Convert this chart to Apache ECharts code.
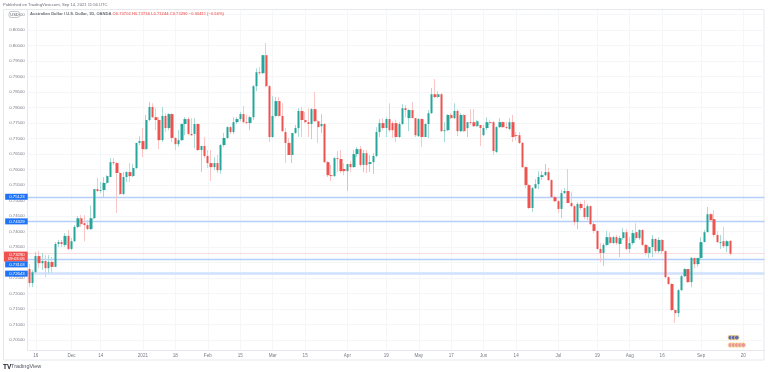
<!DOCTYPE html>
<html><head><meta charset="utf-8">
<style>html,body{margin:0;padding:0;background:#fff}#c{width:768px;height:372px}</style>
<script src="https://cdn.jsdelivr.net/npm/echarts@6/dist/echarts.min.js"></script>
</head><body><div id="c"></div>
<script>
const open=[.7279,.7234,.7269,.7321,.7298,.7305,.7282,.7302,.7286,.7360,.7366,.7357,.7386,.7344,.7369,.7415,.7443,.7427,.7421,.7408,.7443,.7537,.7531,.7534,.7557,.7576,.7624,.7621,.7589,.7521,.7576,.7592,.7579,.7605,.7686,.7692,.7666,.7760,.7802,.7769,.7760,.7695,.7773,.7734,.7779,.7702,.7682,.7695,.7747,.7763,.7715,.7715,.7747,.7663,.7676,.7644,.7621,.7608,.7621,.7598,.7679,.7702,.7737,.7721,.7753,.7763,.7779,.7753,.7750,.7769,.7869,.7914,.7911,.7969,.7869,.7705,.7773,.7821,.7773,.7721,.7686,.7647,.7718,.7734,.7789,.7760,.7753,.7747,.7795,.7756,.7740,.7747,.7624,.7582,.7579,.7637,.7634,.7602,.7595,.7618,.7608,.7650,.7666,.7615,.7653,.7618,.7624,.7644,.7721,.7750,.7734,.7763,.7750,.7750,.7705,.7747,.7798,.7766,.7792,.7766,.7708,.7763,.7705,.7747,.7782,.7843,.7834,.7843,.7724,.7727,.7776,.7766,.7789,.7724,.7776,.7734,.7753,.7753,.7740,.7744,.7711,.7734,.7753,.7753,.7657,.7737,.7753,.7737,.7731,.7753,.7711,.7711,.7686,.7608,.7550,.7476,.7540,.7553,.7576,.7582,.7592,.7566,.7511,.7498,.7473,.7524,.7531,.7492,.7482,.7431,.7489,.7476,.7447,.7482,.7424,.7402,.7344,.7331,.7357,.7382,.7363,.7382,.7360,.7379,.7398,.7344,.7363,.7398,.7379,.7405,.7357,.7331,.7350,.7376,.7337,.7373,.7337,.7253,.7231,.7147,.7137,.7211,.7256,.7279,.7237,.7315,.7295,.7315,.7366,.7398,.7456,.7440,.7389,.7363,.7369,.7353,.7370];
const close=[.7234,.7269,.7321,.7298,.7305,.7282,.7302,.7286,.7360,.7366,.7360,.7386,.7344,.7369,.7415,.7443,.7424,.7421,.7408,.7443,.7537,.7531,.7534,.7557,.7579,.7624,.7621,.7589,.7521,.7576,.7592,.7579,.7605,.7686,.7692,.7666,.7760,.7802,.7769,.7760,.7695,.7773,.7734,.7779,.7702,.7682,.7695,.7747,.7763,.7715,.7711,.7747,.7663,.7676,.7644,.7621,.7608,.7621,.7598,.7679,.7702,.7737,.7721,.7753,.7763,.7779,.7753,.7750,.7769,.7869,.7914,.7911,.7969,.7869,.7705,.7773,.7821,.7773,.7724,.7686,.7647,.7718,.7734,.7789,.7760,.7753,.7747,.7795,.7756,.7737,.7747,.7624,.7582,.7579,.7637,.7634,.7595,.7595,.7618,.7608,.7650,.7666,.7615,.7653,.7615,.7624,.7644,.7721,.7750,.7734,.7763,.7727,.7727,.7705,.7747,.7798,.7792,.7792,.7766,.7711,.7763,.7705,.7747,.7782,.7843,.7834,.7843,.7724,.7727,.7776,.7766,.7789,.7724,.7776,.7724,.7753,.7750,.7740,.7756,.7734,.7734,.7753,.7750,.7660,.7737,.7753,.7737,.7734,.7753,.7705,.7708,.7686,.7608,.7550,.7476,.7540,.7553,.7576,.7582,.7592,.7566,.7511,.7498,.7473,.7524,.7531,.7492,.7482,.7431,.7489,.7476,.7447,.7482,.7424,.7402,.7344,.7331,.7357,.7382,.7363,.7382,.7363,.7379,.7398,.7344,.7363,.7395,.7379,.7405,.7357,.7331,.7350,.7376,.7337,.7373,.7337,.7253,.7231,.7147,.7137,.7211,.7256,.7279,.7237,.7315,.7295,.7315,.7366,.7398,.7456,.7437,.7389,.7366,.7366,.7353,.7369,.7329];
const low=[.7221,.7221,.7266,.7282,.7276,.7253,.7266,.7266,.7286,.7350,.7350,.7350,.7340,.7340,.7366,.7411,.7415,.7369,.7405,.7405,.7440,.7527,.7524,.7508,.7553,.7576,.7615,.7460,.7518,.7518,.7560,.7560,.7576,.7602,.7679,.7640,.7663,.7756,.7766,.7727,.7666,.7689,.7721,.7727,.7689,.7663,.7673,.7692,.7711,.7711,.7708,.7669,.7660,.7592,.7637,.7605,.7563,.7598,.7589,.7586,.7673,.7698,.7715,.7715,.7747,.7756,.7750,.7747,.7727,.7760,.7853,.7905,.7908,.7866,.7689,.7702,.7769,.7769,.7721,.7621,.7647,.7621,.7715,.7705,.7705,.7750,.7705,.7698,.7753,.7686,.7718,.7621,.7576,.7563,.7576,.7592,.7589,.7582,.7531,.7592,.7605,.7640,.7608,.7592,.7589,.7592,.7586,.7640,.7705,.7727,.7705,.7721,.7702,.7689,.7702,.7744,.7769,.7724,.7766,.7705,.7705,.7673,.7705,.7702,.7779,.7831,.7831,.7721,.7689,.7724,.7763,.7763,.7708,.7721,.7721,.7705,.7744,.7737,.7737,.7676,.7708,.7727,.7744,.7647,.7653,.7734,.7734,.7731,.7727,.7689,.7695,.7682,.7605,.7540,.7473,.7463,.7537,.7537,.7566,.7579,.7563,.7508,.7495,.7460,.7443,.7521,.7492,.7479,.7421,.7408,.7469,.7440,.7437,.7421,.7395,.7340,.7302,.7289,.7353,.7360,.7360,.7357,.7318,.7373,.7340,.7331,.7357,.7373,.7373,.7353,.7324,.7315,.7318,.7331,.7331,.7327,.7250,.7227,.7144,.7105,.7124,.7208,.7253,.7234,.7221,.7282,.7286,.7308,.7366,.7398,.7434,.7382,.7363,.7344,.7347,.7334,.7324];
const high=[.7295,.7276,.7334,.7337,.7331,.7324,.7324,.7318,.7366,.7373,.7373,.7395,.7405,.7379,.7421,.7450,.7453,.7453,.7437,.7485,.7537,.7573,.7560,.7576,.7582,.7637,.7637,.7624,.7592,.7592,.7595,.7621,.7618,.7686,.7708,.7734,.7776,.7818,.7814,.7798,.7769,.7802,.7782,.7782,.7782,.7705,.7727,.7750,.7769,.7769,.7766,.7766,.7750,.7676,.7705,.7663,.7663,.7640,.7647,.7682,.7718,.7740,.7740,.7769,.7769,.7786,.7805,.7776,.7773,.7873,.7927,.7931,.7969,.8008,.7873,.7837,.7834,.7834,.7814,.7734,.7702,.7718,.7744,.7798,.7802,.7786,.7798,.7798,.7850,.7760,.7779,.7750,.7628,.7615,.7640,.7660,.7663,.7621,.7618,.7628,.7663,.7673,.7676,.7663,.7663,.7647,.7653,.7737,.7763,.7766,.7769,.7814,.7756,.7760,.7753,.7811,.7808,.7795,.7818,.7766,.7766,.7766,.7750,.7792,.7863,.7892,.7853,.7847,.7753,.7779,.7782,.7814,.7795,.7782,.7779,.7753,.7795,.7795,.7760,.7744,.7744,.7769,.7760,.7756,.7740,.7766,.7756,.7753,.7766,.7776,.7721,.7721,.7689,.7611,.7553,.7544,.7569,.7595,.7595,.7618,.7605,.7569,.7515,.7502,.7534,.7540,.7602,.7527,.7485,.7495,.7495,.7502,.7489,.7485,.7431,.7405,.7363,.7363,.7402,.7398,.7386,.7389,.7386,.7411,.7408,.7382,.7405,.7427,.7408,.7408,.7360,.7353,.7389,.7379,.7382,.7376,.7340,.7256,.7234,.7150,.7214,.7260,.7282,.7279,.7318,.7315,.7315,.7382,.7405,.7479,.7460,.7469,.7402,.7389,.7415,.7373,.7373];
const futureBars=10;
const tickIndex=[2,13,22,35,45,55,65,75,85,98,110,120,130,140,150,163,175,185,195,207,220];
const tickLabels=['16','Dec','14','2021','18','Feb','15','Mar','15','Apr','19','May','17','Jun','14','Jul','19','Aug','16','Sep','20'];
const yTicks=[0.705,0.71,0.715,0.72,0.725,0.73,0.735,0.74,0.745,0.75,0.755,0.76,0.765,0.77,0.775,0.78,0.785,0.79,0.795,0.80,0.805,0.81];
const supportLines=[0.75123,0.74329,0.73103];
const thickLine=0.72643;
const lastPrice=0.73290;
const eventsAU=[[216,0.7058],[217,0.7058],[218,0.7058]];
const eventsUS=[[216,0.7034],[217,0.7034],[218,0.7034],[219,0.7034],[220,0.7034]];

const categories=[];for(let i=0;i<open.length+futureBars;i++)categories.push(String(i));
const GREEN='#26a69a',RED='#ef5350',PG='#a8dbd5',PR='#f9c6c7',GRID='#f5f6f8',FRAME='#e6e8ee',TXT='#787b86';
const full=open.map((o,i)=>[o,close[i],low[i],high[i]]);
const body=open.map((o,i)=>[o,close[i],Math.min(o,close[i]),Math.max(o,close[i])]);
const tickMap=new Map(tickIndex.map((k,i)=>[String(k),tickLabels[i]]));
const tag=(v,bg,off,f)=>({yAxis:v,label:{show:true,position:'start',distance:0,offset:off||[0,0],formatter:f||v.toFixed(5),
  backgroundColor:bg,color:'#fff',fontSize:4.3,fontFamily:'Liberation Sans',padding:[1,3,1,4],lineHeight:4}});
const chart=echarts.init(document.getElementById('c'),null,{renderer:'canvas'});
chart.setOption({
  animation:false,backgroundColor:'#fff',
  title:[
    {left:3,top:3,padding:0,text:'Published on TradingView.com, Sep 14, 2021 11:56 UTC',textStyle:{fontSize:4.15,fontWeight:'normal',color:'#6a6d78',fontFamily:'Liberation Sans'}},
    {left:30,top:12,padding:0,text:'{g|Australian Dollar / U.S. Dollar, 1D, OANDA }{r|O0.73702 H0.73734 L0.73244 C0.73290 \u22120.00411 (\u22120.56%)}',
     textStyle:{rich:{g:{fontSize:4.1,color:'#6a6d78',fontFamily:'Liberation Sans'},r:{fontSize:4.15,color:'#f27a78',fontFamily:'Liberation Sans'}}}},
    {left:11,top:363,padding:0,text:'TradingView',textStyle:{fontSize:5.5,fontWeight:'normal',color:'#50535e',fontFamily:'Liberation Sans'}}
  ],
  grid:{left:27.7,width:736.7,top:9,height:341,show:false},
  xAxis:{type:'category',data:categories,boundaryGap:true,
    axisLine:{show:true,lineStyle:{color:FRAME,width:1}},axisTick:{show:false},
    axisLabel:{interval:(i)=>tickMap.has(String(i)),formatter:(v)=>tickMap.get(v)||'',fontSize:4.6,color:TXT,margin:3,fontFamily:'Liberation Sans',hideOverlap:false},
    splitLine:{show:true,alignWithLabel:true,interval:(i)=>tickMap.has(String(i)),lineStyle:{color:GRID,width:1}}},
  yAxis:{type:'value',position:'left',min:0.7018,max:0.8118,
    axisLine:{show:true,lineStyle:{color:FRAME,width:1}},axisTick:{show:false},
    axisLabel:{customValues:yTicks.filter(v=>v!==0.73),margin:3,fontSize:4.3,color:TXT,fontFamily:'Liberation Sans',
      formatter:(v)=>v.toFixed(5)},
    splitLine:{show:false}},
  series:[
    {name:'gridlines',type:'line',data:[],z:1,silent:true,
     markLine:{silent:true,symbol:'none',animation:false,precision:5,z:1,label:{show:false},
       lineStyle:{type:'solid',color:GRID,width:1},data:yTicks.map(v=>({yAxis:v}))}},
    {name:'wicks',type:'candlestick',data:full,barWidth:1,z:3,
     itemStyle:{color:PG,color0:PR,borderColor:PG,borderColor0:PR,borderWidth:1},
     markLine:{silent:true,symbol:'none',animation:false,precision:5,z:2,
       lineStyle:{type:'solid',color:'#b5cffb',width:1.3},
       data:[
         {...tag(lastPrice,RED,[0,3],lastPrice.toFixed(5)+'\n09:03:06'),lineStyle:{color:'#fbdcdc',width:1,type:'solid'}},
         {...tag(thickLine,'#1e74f5'),lineStyle:{color:'#cfe1fc',width:2.6,type:'solid'}},
         tag(supportLines[0],'#1e74f5'),
         tag(supportLines[1],'#1e74f5'),
         tag(supportLines[2],'#1e74f5',[0,5])
       ]}},
    {name:'bodies',type:'candlestick',data:body,barWidth:2.8,z:4,
     itemStyle:{color:GREEN,color0:RED,borderColor:GREEN,borderColor0:RED,borderWidth:0}},
    {name:'au',type:'scatter',data:eventsAU,symbolSize:4.6,z:5,silent:true,
     itemStyle:{color:'#3949ab',borderColor:'#f7d774',borderWidth:1}},
    {name:'us',type:'scatter',data:eventsUS,symbolSize:4.6,z:5,silent:true,
     itemStyle:{color:'#e57d86',borderColor:'#f9e29a',borderWidth:1}}
  ],
  graphic:[
    {type:'rect',shape:{x:3.5,y:9.5,width:760.5,height:350.5},style:{fill:'none',stroke:FRAME,lineWidth:1},z:1,silent:true},
    {type:'rect',shape:{x:9,y:11.5,width:10.5,height:6,r:2},style:{fill:'#fff',stroke:'#8b8e98',lineWidth:.5},z:20,silent:true},
    {type:'text',style:{x:10.3,y:12.8,text:'USD',fontSize:4,fill:'#50535e',fontFamily:'Liberation Sans'},z:21,silent:true},
    {type:'text',style:{x:3,y:363.5,text:'TV',fontSize:6.5,fontWeight:'bold',fill:'#131722',fontFamily:'Liberation Sans'},z:21,silent:true}
  ]
});
</script></body></html>
